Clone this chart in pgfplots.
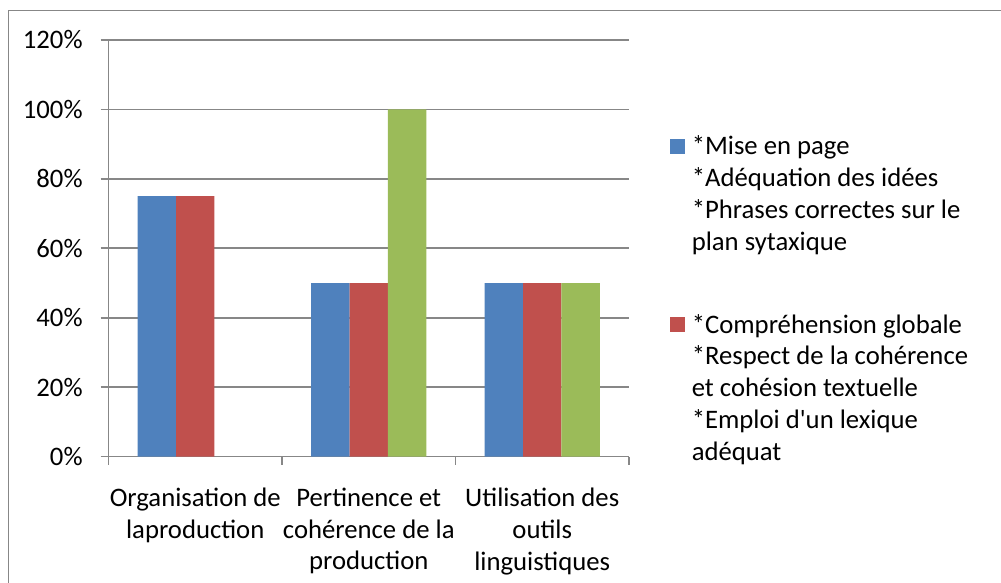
\documentclass[border=0pt]{standalone}
\usepackage{fontspec}
\setmainfont{Carlito}
\usepackage{pgfplots}
\pgfplotsset{compat=1.18}
\definecolor{c1}{HTML}{4F81BD}
\definecolor{c2}{HTML}{C0504D}
\definecolor{c3}{HTML}{9BBB59}
\definecolor{gridc}{HTML}{878787}
\begin{document}
\fontsize{13.35bp}{15.9bp}\selectfont
\begin{tikzpicture}
\path[use as bounding box] (0,0) rectangle (500.5bp,291.5bp);
\begin{scope}
\clip (0,0) rectangle (500.5bp,291.5bp);
\draw[gridc, line width=0.8bp] (4.25bp,-10bp) rectangle (520bp,286.25bp);
\end{scope}
\begin{axis}[
  at={(54.25bp,63.2bp)}, anchor=south west,
  scale only axis, width=260.25bp, height=208.3bp,
  xmin=-0.5, xmax=2.5, ymin=0, ymax=120,
  axis x line*=bottom, axis y line*=left,
  axis line style={gridc, line width=0.8bp, -},
  ytick={0,20,...,120},
  yticklabel={\pgfmathprintnumber{\tick}\%},
  yticklabel style={xshift=-4.3bp},
  /pgf/number format/assume math mode=true,
  ymajorgrids, grid style={gridc, line width=0.8bp},
  tick align=outside, major tick length=4bp,
  tick style={gridc, line width=0.8bp},
  xtick={-0.5,0.5,1.5,2.5}, xticklabels={},
  extra x ticks={0,1,2},
  extra x tick labels={Organisation de\\laproduction, Pertinence et\\cohérence de la\\production, Utilisation des\\outils\\linguistiques},
  extra x tick style={major tick length=0pt, grid=none, xticklabel style={align=center, yshift=-11bp}},
  ticklabel style={font=\fontsize{13.35bp}{15.9bp}\selectfont},
  legend style={at={(1.0788,0.7809)}, anchor=north west, draw=none, fill=none,
    inner sep=0pt, row sep=0pt, column sep=3.3bp,
    font=\fontsize{13.35bp}{15.9bp}\selectfont,
    nodes={inner sep=0pt, text height=11.5bp, text depth=4.4bp},
    cells={anchor=base west}},
]
\addplot[ybar, bar width=19.2bp, bar shift=-19.2bp, fill=c1, draw=none, forget plot] coordinates {(0,75) (1,50) (2,50)};
\addplot[ybar, bar width=19.2bp, bar shift=0bp, fill=c2, draw=none, forget plot] coordinates {(0,75) (1,50) (2,50)};
\addplot[ybar, bar width=19.2bp, bar shift=19.2bp, fill=c3, draw=none, forget plot] coordinates {(1,100) (2,50)};

\addlegendimage{legend image code/.code={\fill[c1] (0bp,0.7bp) rectangle (7bp,7.7bp);}}
\addlegendentry{*Mise en page}
\addlegendimage{empty legend}
\addlegendentry{*Adéquation des idées}
\addlegendimage{empty legend}
\addlegendentry{*Phrases correctes sur le}
\addlegendimage{empty legend}
\addlegendentry{plan sytaxique}
\addlegendimage{empty legend}
\addlegendentry[text height=21.2bp]{\mbox{}}
\addlegendimage{legend image code/.code={\fill[c2] (0bp,0.7bp) rectangle (7bp,7.7bp);}}
\addlegendentry{*Compréhension globale}
\addlegendimage{empty legend}
\addlegendentry{*Respect de la cohérence}
\addlegendimage{empty legend}
\addlegendentry{et cohésion textuelle}
\addlegendimage{empty legend}
\addlegendentry{*Emploi d\textquotesingle un lexique}
\addlegendimage{empty legend}
\addlegendentry{adéquat}
\end{axis}
\end{tikzpicture}
\end{document}
